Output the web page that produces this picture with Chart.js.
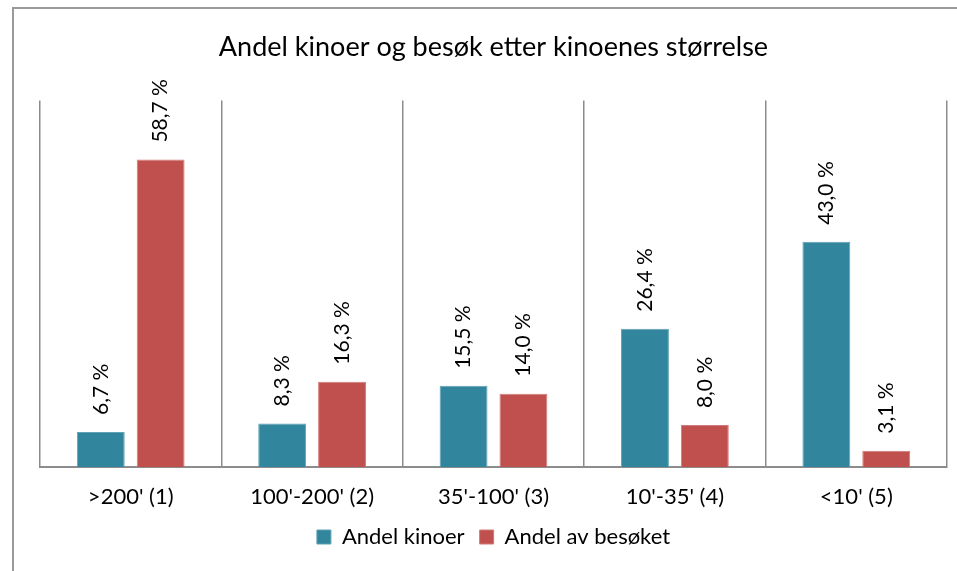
<!DOCTYPE html>
<html>
<head>
<meta charset="utf-8">
<script src="https://cdn.jsdelivr.net/npm/chart.js@4.4.1/dist/chart.umd.min.js"></script>
<style>
  html, body { margin: 0; padding: 0; background: #ffffff; }
  #wrap { width: 957px; height: 571px; position: relative; }
</style>
</head>
<body>
<div id="wrap"><canvas id="chart" width="957" height="571"></canvas></div>
<script>
// Data
const categories = [">200' (1)", "100'-200' (2)", "35'-100' (3)", "10'-35' (4)", "<10' (5)"];
const andelKinoer = [6.7, 8.3, 15.5, 26.4, 43.0];
const andelBesok = [58.7, 16.3, 14.0, 8.0, 3.1];
const seriesNames = ["Andel kinoer", "Andel av besøket"];

const FONT = "Lato, 'Open Sans', sans-serif";

// formats 58.7 -> "58,7 %"
function fmt(v) {
  return v.toFixed(1).replace(".", ",") + " %";
}

// outer frame like the Excel chart border
const framePlugin = {
  id: "frame",
  beforeDraw(chart) {
    const ctx = chart.ctx;
    ctx.save();
    ctx.strokeStyle = "#9a9a9a";
    ctx.lineWidth = 2;
    ctx.strokeRect(13, 8, 1000, 700);
    ctx.restore();
  }
};

// rotated value labels above each bar
const valueLabels = {
  id: "valueLabels",
  afterDatasetsDraw(chart) {
    const ctx = chart.ctx;
    ctx.save();
    ctx.fillStyle = "#000000";
    ctx.font = "21px " + FONT;
    ctx.textAlign = "left";
    ctx.textBaseline = "middle";
    chart.data.datasets.forEach((ds, i) => {
      chart.getDatasetMeta(i).data.forEach((bar, j) => {
        ctx.save();
        ctx.translate(bar.x, bar.y - 17);
        ctx.rotate(-Math.PI / 2);
        ctx.fillText(fmt(ds.data[j]), 0, 0);
        ctx.restore();
      });
    });
    ctx.restore();
  }
};

new Chart(document.getElementById("chart"), {
  type: "bar",
  data: {
    labels: categories,
    datasets: [
      {
        label: seriesNames[0],
        data: andelKinoer,
        backgroundColor: "#31859c",
        borderColor: "#5fa3b5",
        borderWidth: 1,
        categoryPercentage: 0.66,
        barPercentage: 0.8
      },
      {
        label: seriesNames[1],
        data: andelBesok,
        backgroundColor: "#c0504d",
        borderColor: "#d27a77",
        borderWidth: 1,
        categoryPercentage: 0.66,
        barPercentage: 0.8
      }
    ]
  },
  options: {
    responsive: false,
    animation: false,
    layout: { padding: { left: 40, right: 10, top: 0, bottom: 13 } },
    scales: {
      x: {
        offset: true,
        grid: { offset: true, color: "#8c8c8c", lineWidth: 1.5, drawTicks: false },
        border: { color: "#8c8c8c", width: 2 },
        ticks: { color: "#000000", padding: 17, font: { family: FONT, size: 22 } },
        afterFit(scale) {
          scale.height = 44;
        }
      },
      y: {
        display: false,
        min: 0,
        max: 70
      }
    },
    plugins: {
      title: {
        display: true,
        text: "Andel kinoer og besøk etter kinoenes størrelse",
        color: "#000000",
        font: { family: FONT, size: 27, weight: "normal" },
        padding: { top: 31, bottom: 37 }
      },
      legend: {
        position: "bottom",
        labels: {
          color: "#000000",
          font: { family: FONT, size: 22 },
          boxWidth: 14,
          boxHeight: 14,
          padding: 15
        }
      },
      tooltip: { enabled: false }
    }
  },
  plugins: [framePlugin, valueLabels]
});
</script>
</body>
</html>
